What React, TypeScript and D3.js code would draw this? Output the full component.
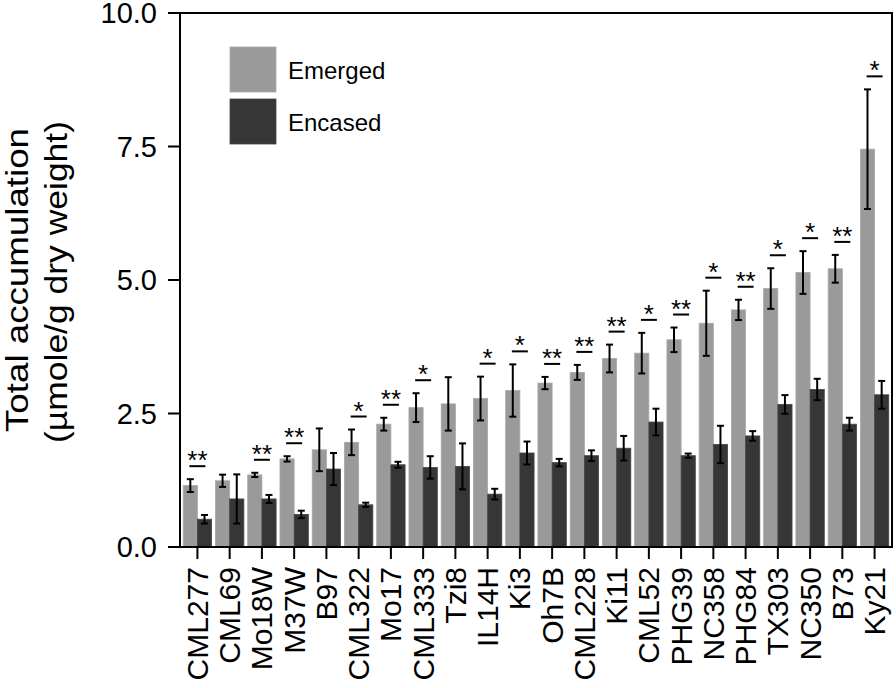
import React from 'react';
import * as d3 from 'd3';

const lines = ['CML277', 'CML69', 'Mo18W', 'M37W', 'B97', 'CML322', 'Mo17', 'CML333', 'Tzi8', 'IL14H', 'Ki3', 'Oh7B', 'CML228', 'Ki11', 'CML52', 'PHG39', 'NC358', 'PHG84', 'TX303', 'NC350', 'B73', 'Ky21'];

const emerged = [1.15, 1.24, 1.35, 1.65, 1.82, 1.96, 2.30, 2.61, 2.68, 2.78, 2.93, 3.07, 3.27, 3.53, 3.63, 3.88, 4.19, 4.44, 4.84, 5.14, 5.21, 7.45];
const emergedErr = [0.12, 0.115, 0.04, 0.05, 0.40, 0.24, 0.12, 0.27, 0.50, 0.41, 0.49, 0.115, 0.14, 0.26, 0.38, 0.23, 0.61, 0.19, 0.38, 0.40, 0.26, 1.12];

const encased = [0.52, 0.90, 0.90, 0.61, 1.46, 0.79, 1.54, 1.49, 1.51, 0.99, 1.76, 1.58, 1.71, 1.85, 2.34, 1.71, 1.92, 2.08, 2.67, 2.95, 2.30, 2.85];
const encasedErr = [0.08, 0.46, 0.075, 0.07, 0.30, 0.04, 0.056, 0.21, 0.43, 0.10, 0.215, 0.07, 0.10, 0.23, 0.25, 0.04, 0.35, 0.09, 0.175, 0.20, 0.12, 0.26];

const signif = ['**', '', '**', '**', '', '*', '**', '*', '', '*', '*', '**', '**', '**', '*', '**', '*', '**', '*', '*', '**', '*'];

const yTicks = [0, 2.5, 5, 7.5, 10];

const series = [
  { name: 'Emerged', values: emerged, errs: emergedErr, color: '#9a9a9a', stroke: '#a8a8a8' },
  { name: 'Encased', values: encased, errs: encasedErr, color: '#363636', stroke: '#444444' },
];

const W = 896;
const H = 688;
const left = 180, right = 892, top = 13, bottom = 547;
const font = '"Liberation Sans", Arial, sans-serif';

export default function App() {
  const x = d3.scaleBand<string>().domain(lines).range([left, right]).paddingInner(0.12).paddingOuter(0.1);
  const sub = d3.scaleBand<string>().domain(series.map((s) => s.name)).range([0, x.bandwidth()]);
  const y = d3.scaleLinear().domain([0, 10]).range([bottom, top]);
  const capW = 3.5;

  return (
    <svg width={W} height={H} style={{ position: 'absolute', left: 0, top: 0, background: '#fff' }} fontFamily={font}>
      {/* bars */}
      {series.map((s) => (
        <g key={s.name}>
          {lines.map((l, i) => {
            const bx = (x(l) as number) + (sub(s.name) as number);
            return (
              <rect key={l} x={bx} y={y(s.values[i])} width={sub.bandwidth()} height={y(0) - y(s.values[i])}
                fill={s.color} stroke={s.stroke} strokeWidth={0.8} />
            );
          })}
        </g>
      ))}

      {/* error bars */}
      {series.map((s) => (
        <g key={s.name + 'err'} stroke="#000" strokeWidth={2}>
          {lines.map((l, i) => {
            const cx = (x(l) as number) + (sub(s.name) as number) + sub.bandwidth() / 2;
            const hi = y(s.values[i] + s.errs[i]);
            const lo = y(s.values[i] - s.errs[i]);
            return (
              <g key={l}>
                <line x1={cx} x2={cx} y1={hi} y2={lo} />
                <line x1={cx - capW} x2={cx + capW} y1={hi} y2={hi} />
                <line x1={cx - capW} x2={cx + capW} y1={lo} y2={lo} />
              </g>
            );
          })}
        </g>
      ))}

      {/* significance */}
      {lines.map((l, i) => {
        if (!signif[i]) return null;
        const cx = (x(l) as number) + x.bandwidth() / 2;
        const ly = y(emerged[i] + emergedErr[i]) - 13;
        return (
          <g key={l + 'sig'}>
            <line x1={cx - 8} x2={cx + 8} y1={ly} y2={ly} stroke="#000" strokeWidth={2} />
            <text x={cx} y={ly + 3} textAnchor="middle" fontSize={26} fill="#000">{signif[i]}</text>
          </g>
        );
      })}

      {/* frame */}
      <rect x={left} y={top} width={right - left} height={bottom - top} fill="none" stroke="#000" strokeWidth={2} />

      {/* y axis */}
      {yTicks.map((t) => (
        <g key={t}>
          <line x1={left - 12} x2={left} y1={y(t)} y2={y(t)} stroke="#000" strokeWidth={2} />
          <text x={157} y={y(t)} dy="0.36em" textAnchor="end" fontSize={29} fill="#000">{t.toFixed(1)}</text>
        </g>
      ))}

      {/* x axis */}
      {lines.map((l) => {
        const cx = (x(l) as number) + x.bandwidth() / 2;
        return (
          <g key={l + 'x'}>
            <line x1={cx} x2={cx} y1={bottom} y2={bottom + 12} stroke="#000" strokeWidth={2} />
            <text transform={`translate(${cx + 10.5},${bottom + 20}) rotate(-90)`} textAnchor="end" fontSize={30} fill="#000">{l}</text>
          </g>
        );
      })}

      {/* y label */}
      <g transform={`translate(0,${(top + bottom) / 2}) rotate(-90)`}>
        <text x={0} y={28} textAnchor="middle" fontSize={32} fill="#000" textLength={304} lengthAdjust="spacingAndGlyphs">Total accumulation</text>
        <text x={-2} y={67} textAnchor="middle" fontSize={32} fill="#000" textLength={322} lengthAdjust="spacingAndGlyphs">(µmole/g dry weight)</text>
      </g>

      {/* legend */}
      {series.map((s, i) => (
        <g key={s.name + 'leg'} transform={`translate(230,${47 + i * 52})`}>
          <rect x={0} y={0} width={46} height={45} fill={s.color} stroke={s.stroke} strokeWidth={0.8} />
          <text x={58} y={32} fontSize={24} fill="#000">{s.name}</text>
        </g>
      ))}
    </svg>
  );
}
